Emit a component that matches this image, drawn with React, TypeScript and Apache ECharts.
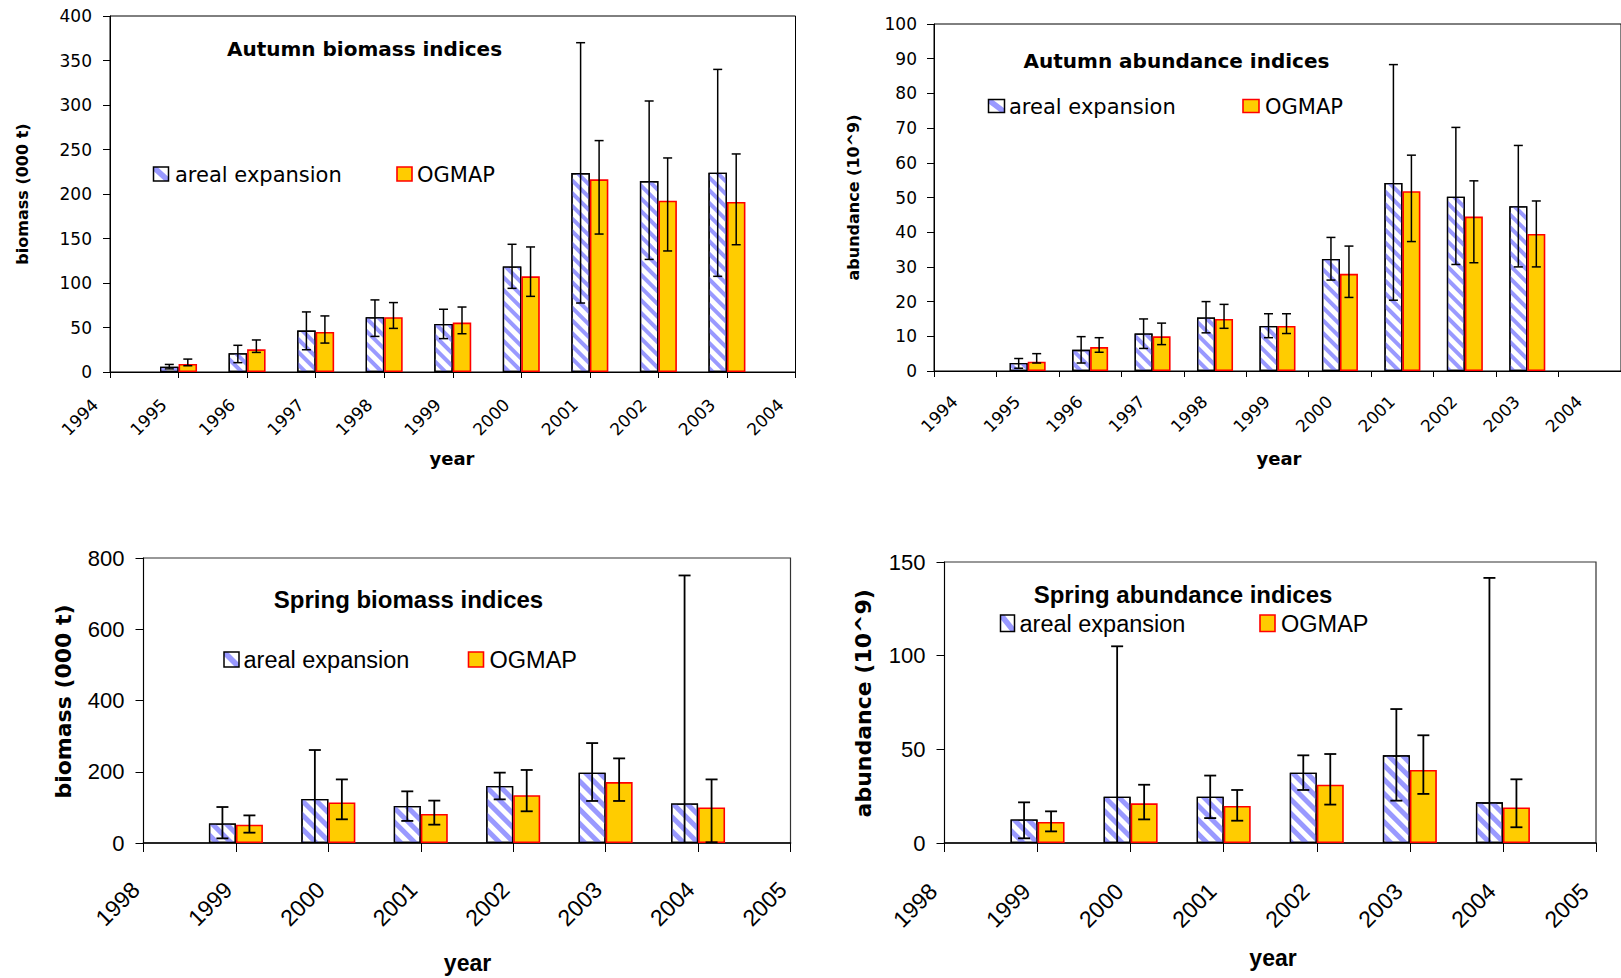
import React, { useEffect, useRef } from "react";
import * as echarts from "echarts";

// ---------- categories ----------
const autumnYears = ["1994", "1995", "1996", "1997", "1998", "1999", "2000", "2001", "2002", "2003", "2004"];
const springYears = ["1998", "1999", "2000", "2001", "2002", "2003", "2004", "2005"];

// ---------- Autumn biomass (000 t) ----------
const abArealValue = [null, 6, 21, 46.5, 61.5, 54, 118.5, 223.5, 214.5, 224, null];
const abArealLow = [null, 3.5, 10.5, 25, 40, 37.5, 94, 77.5, 126.5, 107.5, null];
const abArealHigh = [null, 8.5, 30, 67.5, 81, 70.5, 143.5, 370, 304.5, 340, null];
const abOgmapValue = [null, 9, 25.5, 45, 61.5, 55.5, 107.5, 216.5, 192.5, 191, null];
const abOgmapLow = [null, 7, 22, 32.5, 49, 43, 85, 155, 136, 143, null];
const abOgmapHigh = [null, 14.5, 36, 63, 78, 73, 140.5, 260, 240.5, 245, null];

// ---------- Autumn abundance (10^9) ----------
const aaArealValue = [null, 2.3, 6.1, 10.8, 15.4, 13, 32.3, 54.2, 50.2, 47.5, null];
const aaArealLow = [null, 0.8, 2.3, 6.5, 11, 9.6, 26.2, 20.4, 30.7, 30, null];
const aaArealHigh = [null, 3.6, 9.9, 15, 20, 16.5, 38.5, 88.3, 70.2, 65, null];
const aaOgmapValue = [null, 2.7, 6.9, 10, 15, 13, 28, 51.8, 44.5, 39.5, null];
const aaOgmapLow = [null, 2.3, 5.4, 7.6, 12.3, 10.8, 21.2, 37.3, 31.2, 30, null];
const aaOgmapHigh = [null, 5, 9.6, 13.8, 19.2, 16.5, 36, 62.2, 54.8, 49, null];

// ---------- Spring biomass (000 t) ----------
const sbArealValue = [null, 55, 123.5, 104, 160, 197.5, 111, null];
const sbArealLow = [null, 13, 0, 62, 122.5, 118, 0, null];
const sbArealHigh = [null, 101, 261, 145, 197.5, 280.5, 751, null];
const sbOgmapValue = [null, 51.5, 114, 81.5, 134, 171, 100, null];
const sbOgmapLow = [null, 29, 66.5, 51.5, 89, 118, 2, null];
const sbOgmapHigh = [null, 77.5, 178.5, 119, 205, 237.5, 178.5, null];

// ---------- Spring abundance (10^9) ----------
const saArealValue = [null, 12.6, 24.7, 24.7, 37.5, 46.8, 21.7, null];
const saArealLow = [null, 2.5, 0, 13.3, 28.3, 22.6, 0, null];
const saArealHigh = [null, 21.7, 105, 36, 46.8, 71.5, 141.5, null];
const saOgmapValue = [null, 11.2, 21.2, 19.8, 31.1, 39, 19, null];
const saOgmapLow = [null, 6.2, 12.6, 11.9, 20.5, 26.2, 8.4, null];
const saOgmapHigh = [null, 16.9, 31.1, 28.3, 47.5, 57.5, 34, null];

// ---------- style constants ----------
const TOP_FONT = "'DejaVu Sans', sans-serif";
const BOT_FONT = "'Liberation Sans', Arial, sans-serif";
const HATCH = "#9999ff";
const YELLOW = "#FFCC00";
const RED = "#FF0000";

function arealBar(name: string, idx: number, data: (number | null)[], width: number, stripe: number[]) {
  return {
    type: "bar",
    name,
    xAxisIndex: idx,
    yAxisIndex: idx,
    barWidth: width,
    barGap: "0%",
    z: 2,
    data: data.map((v) => (v == null ? "-" : v)),
    itemStyle: {
      color: "#ffffff",
      borderColor: "#000",
      borderWidth: 1.3,
      decal: {
        symbol: "rect",
        symbolSize: 1,
        color: HATCH,
        dashArrayX: [1, 0],
        dashArrayY: stripe,
        rotation: Math.PI / 4,
      },
    },
  };
}

function ogmapBar(name: string, idx: number, data: (number | null)[], width: number) {
  return {
    type: "bar",
    name,
    xAxisIndex: idx,
    yAxisIndex: idx,
    barWidth: width,
    barGap: "0%",
    z: 2,
    data: data.map((v) => (v == null ? "-" : v)),
    itemStyle: { color: YELLOW, borderColor: RED, borderWidth: 1.6 },
  };
}

function errorBars(idx: number, low: (number | null)[], high: (number | null)[], offset: number, cap: number, lw: number) {
  const data: number[][] = [];
  low.forEach((l, i) => {
    if (l != null && high[i] != null) data.push([i, l, high[i] as number]);
  });
  return {
    type: "custom",
    xAxisIndex: idx,
    yAxisIndex: idx,
    z: 5,
    silent: true,
    clip: false,
    encode: { x: 0, y: [1, 2] },
    data,
    renderItem: (params: any, api: any) => {
      const i = api.value(0);
      const lo = api.value(1);
      const hi = api.value(2);
      const pHi = api.coord([i, hi]);
      const pLo = api.coord([i, lo]);
      const x = pHi[0] + offset;
      const st = { stroke: "#000", lineWidth: lw };
      const children: any[] = [
        { type: "line", shape: { x1: x, y1: pHi[1], x2: x, y2: pLo[1] }, style: st },
        { type: "line", shape: { x1: x - cap / 2, y1: pHi[1], x2: x + cap / 2, y2: pHi[1] }, style: st },
      ];
      if (lo > 0) {
        children.push({ type: "line", shape: { x1: x - cap / 2, y1: pLo[1], x2: x + cap / 2, y2: pLo[1] }, style: st });
      }
      return { type: "group", children };
    },
  };
}

function xAxis(idx: number, data: string[], boundaryGap: boolean, font: string, size: number, margin: number, pad: number, tickLen: number, lw: number) {
  return {
    type: "category",
    gridIndex: idx,
    data,
    boundaryGap,
    axisLine: { show: true, lineStyle: { color: "#000", width: lw } },
    axisTick: { show: true, length: tickLen, interval: 0, lineStyle: { color: "#000", width: 1 } },
    axisLabel: {
      interval: 0,
      rotate: 45,
      margin,
      padding: [0, pad, 0, 0],
      fontSize: size,
      fontFamily: font,
      color: "#000",
      showMinLabel: true,
      showMaxLabel: true,
    },
    splitLine: { show: false },
  };
}

function yAxis(idx: number, max: number, interval: number, font: string, size: number, margin: number, tickLen: number) {
  return {
    type: "value",
    gridIndex: idx,
    min: 0,
    max,
    interval,
    axisLine: { show: true, lineStyle: { color: "#000", width: 1 } },
    axisTick: { show: true, length: tickLen, lineStyle: { color: "#000", width: 1 } },
    axisLabel: { margin, fontSize: size, fontFamily: font, color: "#000" },
    splitLine: { show: false },
  };
}

function text(t: string, x: number, y: number, font: string, size: number, bold: boolean, align = "center", rotation = 0) {
  return {
    type: "text",
    x,
    y,
    rotation,
    style: {
      text: t,
      fontFamily: font,
      fontSize: size,
      fontWeight: bold ? "bold" : "normal",
      fill: "#000",
      align,
      verticalAlign: "middle",
    },
  };
}

function arealIcon(x: number, y: number, w: number, h: number) {
  const a = 4;
  return {
    type: "group",
    children: [
      { type: "rect", shape: { x, y, width: w, height: h }, style: { fill: "#fff" } },
      {
        type: "polygon",
        shape: { points: [[x, y], [x + a, y], [x + w, y + h - a], [x + w, y + h], [x + w - a, y + h], [x, y + a]] },
        style: { fill: HATCH },
      },
      { type: "rect", shape: { x, y, width: w, height: h }, style: { fill: "none", stroke: "#000", lineWidth: 1.5 } },
    ],
  };
}

function ogmapIcon(x: number, y: number, w: number, h: number) {
  return { type: "rect", shape: { x, y, width: w, height: h }, style: { fill: YELLOW, stroke: RED, lineWidth: 1.6 } };
}

const option: any = {
  animation: false,
  backgroundColor: "#ffffff",
  grid: [
    { left: 110, top: 16, width: 685.5, height: 356, show: true, borderColor: "#000", borderWidth: 1, backgroundColor: "transparent" },
    { left: 934, top: 24, width: 689, height: 347, show: true, borderColor: "#000", borderWidth: 1, backgroundColor: "transparent" },
    { left: 143.5, top: 558, width: 647, height: 285, show: true, borderColor: "#333", borderWidth: 1.2, backgroundColor: "transparent" },
    { left: 944.5, top: 562, width: 651.5, height: 281, show: true, borderColor: "#333", borderWidth: 1.2, backgroundColor: "transparent" },
  ],
  xAxis: [
    xAxis(0, autumnYears, false, TOP_FONT, 17, 15, 21, 6, 1.2),
    xAxis(1, autumnYears, true, TOP_FONT, 17, 17, 15, 6, 1.2),
    xAxis(2, springYears, false, BOT_FONT, 23, 35, 11, 9, 1.6),
    xAxis(3, springYears, false, BOT_FONT, 23, 33, 16, 9, 1.6),
  ],
  yAxis: [
    yAxis(0, 400, 50, TOP_FONT, 17, 18, 7),
    yAxis(1, 100, 10, TOP_FONT, 17, 17, 7),
    yAxis(2, 800, 200, BOT_FONT, 22, 19, 8),
    yAxis(3, 150, 50, BOT_FONT, 22, 19, 8),
  ],
  series: [
    arealBar("areal expansion", 0, abArealValue, 18.5, [4, 4.5]),
    ogmapBar("OGMAP", 0, abOgmapValue, 18.5),
    errorBars(0, abArealLow, abArealHigh, -9.25, 9, 1.5),
    errorBars(0, abOgmapLow, abOgmapHigh, 9.25, 9, 1.5),

    arealBar("areal expansion", 1, aaArealValue, 18, [4, 4.5]),
    ogmapBar("OGMAP", 1, aaOgmapValue, 18),
    errorBars(1, aaArealLow, aaArealHigh, -9, 9, 1.5),
    errorBars(1, aaOgmapLow, aaOgmapHigh, 9, 9, 1.5),

    arealBar("areal expansion", 2, sbArealValue, 27, [5, 5]),
    ogmapBar("OGMAP", 2, sbOgmapValue, 27),
    errorBars(2, sbArealLow, sbArealHigh, -13.5, 12, 1.8),
    errorBars(2, sbOgmapLow, sbOgmapHigh, 13.5, 12, 1.8),

    arealBar("areal expansion", 3, saArealValue, 27, [5, 5]),
    ogmapBar("OGMAP", 3, saOgmapValue, 27),
    errorBars(3, saArealLow, saArealHigh, -13.5, 12, 1.8),
    errorBars(3, saOgmapLow, saOgmapHigh, 13.5, 12, 1.8),
  ],
  graphic: [
    // top-left
    text("Autumn biomass indices", 364.5, 49, TOP_FONT, 20, true),
    arealIcon(153.5, 167, 15, 14),
    text("areal expansion", 175, 175, TOP_FONT, 21, false, "left"),
    ogmapIcon(397, 167, 15, 14),
    text("OGMAP", 417, 175, TOP_FONT, 21, false, "left"),
    text("biomass (000 t)", 22.7, 194, TOP_FONT, 16, true, "center", Math.PI / 2),
    text("year", 452, 458, TOP_FONT, 18, true),

    // top-right
    text("Autumn abundance indices", 1176.5, 61, TOP_FONT, 20, true),
    arealIcon(988.5, 99.5, 16, 13),
    text("areal expansion", 1009, 107, TOP_FONT, 21, false, "left"),
    ogmapIcon(1243, 99.5, 16, 13),
    text("OGMAP", 1265, 107, TOP_FONT, 21, false, "left"),
    text("abundance (10^9)", 853, 197.5, TOP_FONT, 16, true, "center", Math.PI / 2),
    text("year", 1279, 458, TOP_FONT, 18, true),

    // bottom-left
    text("Spring biomass indices", 408.5, 599, BOT_FONT, 24, true),
    arealIcon(224, 652, 15, 15),
    text("areal expansion", 243.5, 660, BOT_FONT, 23.5, false, "left"),
    ogmapIcon(468.5, 652, 15, 15),
    text("OGMAP", 489.5, 660, BOT_FONT, 23.5, false, "left"),
    text("biomass (000 t)", 63.5, 701.5, TOP_FONT, 22, true, "center", Math.PI / 2),
    text("year", 467.5, 963, BOT_FONT, 23, true),

    // bottom-right
    text("Spring abundance indices", 1183, 594, BOT_FONT, 24, true),
    arealIcon(1000.5, 615, 14, 16.5),
    text("areal expansion", 1019.5, 624, BOT_FONT, 23.5, false, "left"),
    ogmapIcon(1260, 615, 15, 16.5),
    text("OGMAP", 1281, 624, BOT_FONT, 23.5, false, "left"),
    text("abundance (10^9)", 863, 703.3, TOP_FONT, 22, true, "center", Math.PI / 2),
    text("year", 1273, 958, BOT_FONT, 23, true),
  ],
};

export default function App() {
  const ref = useRef<HTMLDivElement>(null);
  useEffect(() => {
    if (!ref.current) return;
    const chart = echarts.init(ref.current, null, { renderer: "svg", width: 1621, height: 978 });
    chart.setOption(option);
    return () => chart.dispose();
  }, []);
  return (
    <div
      ref={ref}
      style={{ position: "fixed", left: 0, top: 0, width: 1621, height: 978, background: "#fff" }}
    />
  );
}
